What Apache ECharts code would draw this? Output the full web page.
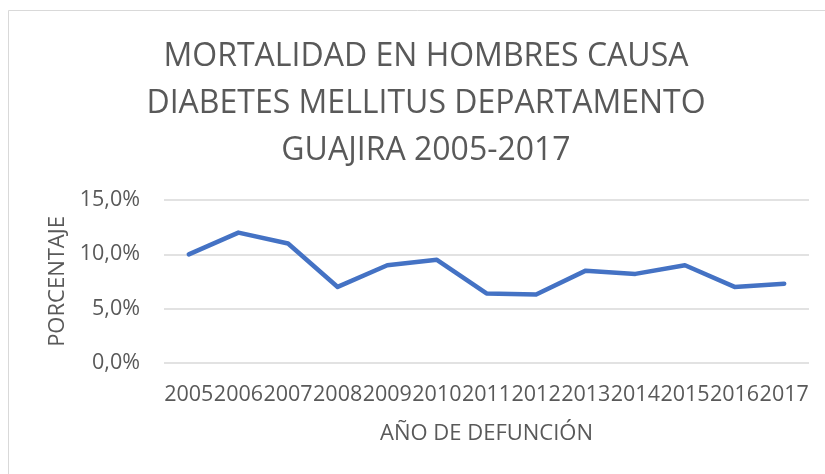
<!DOCTYPE html>
<html lang="es">
<head>
    <meta charset="UTF-8">
    <title>mortalidad diabetes guajira</title>
    <style>
        html,
        body {
            margin: 0;
            padding: 0;
            background: #fff;
        }
    </style>
</head>
<body>
    <div id="show" style="width: 825px; height: 474px;"></div>

    <script src="https://cdn.jsdelivr.net/npm/echarts@6/dist/echarts.min.js"></script>
    <script>
        // años y porcentajes
        var years = ['2005', '2006', '2007', '2008', '2009', '2010', '2011', '2012', '2013', '2014', '2015', '2016', '2017'];
        var pct = [10.0, 12.0, 11.0, 7.0, 9.0, 9.5, 6.4, 6.3, 8.5, 8.2, 9.0, 7.0, 7.3];
        var yTicks = [0, 5, 10, 15];

        var gray = '#595959';
        var font = '"Open Sans", sans-serif';

        var myChart = echarts.init(document.querySelector('#show'));

        myChart.setOption({
            animation: false,
            backgroundColor: '#fff',
            title: {
                text: 'MORTALIDAD EN HOMBRES CAUSA\nDIABETES MELLITUS DEPARTAMENTO\nGUAJIRA 2005-2017',
                left: 421,
                top: 28,
                textAlign: 'center',
                textStyle: {
                    color: gray,
                    fontFamily: font,
                    fontWeight: 'normal',
                    fontSize: 32,
                    lineHeight: 47
                }
            },
            graphic: [{
                type: 'rect',
                shape: { x: 8.5, y: 10.5, width: 900, height: 600 },
                style: { fill: 'none', stroke: '#d9d9d9', lineWidth: 1 }
            }],
            grid: {
                left: 164,
                right: 16,
                top: 200,
                bottom: 111
            },
            xAxis: {
                type: 'category',
                data: years,
                boundaryGap: true,
                name: 'AÑO DE DEFUNCIÓN',
                nameLocation: 'middle',
                nameGap: 60,
                nameTextStyle: { color: gray, fontFamily: font, fontSize: 22 },
                axisLine: { show: false },
                axisTick: { show: false },
                axisLabel: {
                    interval: 0,
                    color: gray,
                    fontFamily: font,
                    fontSize: 21.5,
                    margin: 21
                }
            },
            yAxis: {
                type: 'value',
                min: yTicks[0],
                max: yTicks[yTicks.length - 1],
                interval: 5,
                name: 'PORCENTAJE',
                nameLocation: 'middle',
                nameGap: 92,
                nameTextStyle: { color: gray, fontFamily: font, fontSize: 22 },
                axisLine: { show: false },
                axisTick: { show: false },
                axisLabel: {
                    color: gray,
                    fontFamily: font,
                    fontSize: 21.5,
                    margin: 24,
                    formatter: function (v) {
                        return v.toFixed(1).replace('.', ',') + '%';
                    }
                },
                splitLine: { lineStyle: { color: '#d9d9d9', width: 1.5 } }
            },
            series: [{
                type: 'line',
                data: pct,
                symbol: 'none',
                lineStyle: { color: '#4472C4', width: 4.5, cap: 'round', join: 'round' }
            }]
        });
    </script>
</body>
</html>
